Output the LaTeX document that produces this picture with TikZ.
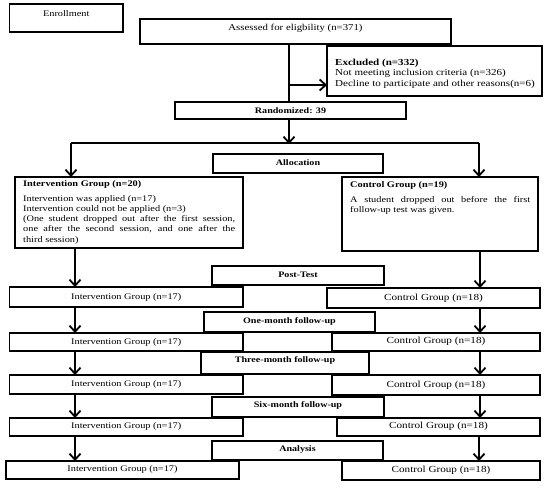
\documentclass[tikz,border=0pt]{standalone}
\usepackage{fontspec}
\setmainfont{Liberation Serif}[FakeStretch=1.2]
\usetikzlibrary{arrows.meta}
\begin{document}
\begin{tikzpicture}[x=1pt,y=-1pt,
  box/.style={draw,line width=1.2pt,inner sep=0pt,outer sep=0pt},
  txt/.style={inner sep=0pt,font=\fontsize{8.6}{10.2}\selectfont},
  ctxt/.style={inner sep=0pt,font=\fontsize{9.3}{10.5}\selectfont},
  btxt/.style={inner sep=0pt,font=\fontsize{8.4}{10}\selectfont\bfseries},
  arr/.style={line width=1.8pt,-{Straight Barb[length=6pt,width=11pt,line width=1.8pt]}},
  ln/.style={line width=1.8pt}]
\useasboundingbox (0,0) rectangle (550,487);
% top
\node[box,minimum width=113.5pt,minimum height=28pt] (enr) at (66.25,18) {};
\node[txt] (enrt) at (66.25,14) {Enrollment};
\node[box,minimum width=311pt,minimum height=25pt] (ass) at (295.5,31.5) {};
\node[txt,font=\fontsize{9}{10.5}\selectfont] (asst) at (295.5,28) {Assessed for eligbility (n=371)};
\node[box,minimum width=215pt,minimum height=50pt] (exc) at (434.5,71) {};
\node[txt,anchor=north west,align=left,font=\fontsize{9.2}{10.3}\selectfont] (exct) at (335,59) {\textbf{Excluded (n=332)}\\Not meeting inclusion criteria (n=326)\\Decline to participate and other reasons(n=6)};
\node[box,minimum width=231pt,minimum height=17pt] (rnd) at (290.5,110.5) {};
\node[btxt] (rndt) at (290.5,110.5) {Randomized: 39};
\node[box,minimum width=170pt,minimum height=19pt] (alc) at (298,163.5) {};
\node[btxt] (alct) at (298,162.5) {Allocation};
% groups
\node[box,minimum width=228pt,minimum height=71pt] (ig) at (129,212.5) {};
\node[txt,anchor=north west,text width=212pt,align=justify] (igt) at (23,180) {\textbf{Intervention Group (n=20)}\\[5pt]Intervention was applied (n=17)\\Intervention could not be applied (n=3)\\(One student dropped out after the first session,\linebreak one after the second session, and one after the\linebreak third session)};
\node[box,minimum width=196pt,minimum height=74pt] (cg) at (440,214) {};
\node[txt,anchor=north west,text width=180pt,align=justify] (cgt) at (350,181) {\textbf{Control Group (n=19)}\\[5pt]A student dropped out before the first\linebreak follow-up test was given.};
% stages
\node[box,minimum width=172pt,minimum height=19pt] (pt) at (298,275.5) {};
\node[btxt] (ptt) at (298,274.5) {Post-Test};
\node[box,minimum width=171pt,minimum height=20pt] (om) at (289.5,322) {};
\node[btxt] (omt) at (289.5,321) {One-month follow-up};
\node[box,minimum width=168pt,minimum height=22pt] (tm) at (285,363) {};
\node[btxt] (tmt) at (285,360) {Three-month follow-up};
\node[box,minimum width=172pt,minimum height=20pt] (sm) at (298,407) {};
\node[btxt] (smt) at (298,405) {Six-month follow-up};
\node[box,minimum width=171pt,minimum height=19pt] (an) at (297.5,450.5) {};
\node[btxt] (ant) at (297.5,449) {Analysis};
% rows
\node[box,minimum width=233.5pt,minimum height=20pt] (i1) at (126.25,297) {};
\node[txt] (i1t) at (126.25,297) {Intervention Group (n=17)};
\node[box,minimum width=213pt,minimum height=20pt] (c1) at (433.5,298) {};
\node[ctxt] (c1t) at (433.5,298) {Control Group (n=18)};
\node[box,minimum width=233.5pt,minimum height=18pt] (i2) at (126.25,342) {};
\node[txt] (i2t) at (126.25,342) {Intervention Group (n=17)};
\node[box,minimum width=208pt,minimum height=18pt] (c2) at (436,342) {};
\node[ctxt] (c2t) at (436,341) {Control Group (n=18)};
\node[box,minimum width=233.5pt,minimum height=19pt] (i3) at (126.25,384.5) {};
\node[txt] (i3t) at (126.25,384) {Intervention Group (n=17)};
\node[box,minimum width=208pt,minimum height=20pt] (c3) at (436,385) {};
\node[ctxt] (c3t) at (436,385) {Control Group (n=18)};
\node[box,minimum width=233.5pt,minimum height=18pt] (i4) at (126.25,427) {};
\node[txt] (i4t) at (126.25,426) {Intervention Group (n=17)};
\node[box,minimum width=203pt,minimum height=18pt] (c4) at (438.5,427) {};
\node[ctxt] (c4t) at (438.5,426) {Control Group (n=18)};
\node[box,minimum width=233pt,minimum height=18pt] (i5) at (122.5,470) {};
\node[txt] (i5t) at (122.5,469) {Intervention Group (n=17)};
\node[box,minimum width=198pt,minimum height=19pt] (c5) at (441,470.5) {};
\node[ctxt] (c5t) at (441,470) {Control Group (n=18)};
% connectors
\coordinate (cx) at (289,0);
\coordinate (ex) at (289,85);
\coordinate (spl) at (289,143);
\coordinate (sl) at (71,143);
\coordinate (sr) at (479,143);
\coordinate (L) at (75,0);
\coordinate (R) at (480,0);
\coordinate (R5) at (479,0);
\draw[ln] (ass.south -| cx) -- (rnd.north -| cx);
\draw[arr] (ex) -- (exc.west |- ex);
\draw[arr] (rnd.south -| cx) -- ([yshift=-1pt]spl);
\draw[ln] (sl) -- (sr);
\draw[arr] (sl) -- (ig.north -| sl);
\draw[arr] (sr) -- (cg.north -| sr);
\draw[arr] (ig.south -| L) -- (i1.north -| L);
\draw[arr] (i1.south -| L) -- (i2.north -| L);
\draw[arr] (i2.south -| L) -- (i3.north -| L);
\draw[arr] (i3.south -| L) -- (i4.north -| L);
\draw[arr] (i4.south -| L) -- (i5.north -| L);
\draw[arr] (cg.south -| R) -- (c1.north -| R);
\draw[arr] (c1.south -| R) -- (c2.north -| R);
\draw[arr] (c2.south -| R) -- (c3.north -| R);
\draw[arr] (c3.south -| R) -- (c4.north -| R);
\draw[arr] (c4.south -| R5) -- (c5.north -| R5);
\end{tikzpicture}
\end{document}
